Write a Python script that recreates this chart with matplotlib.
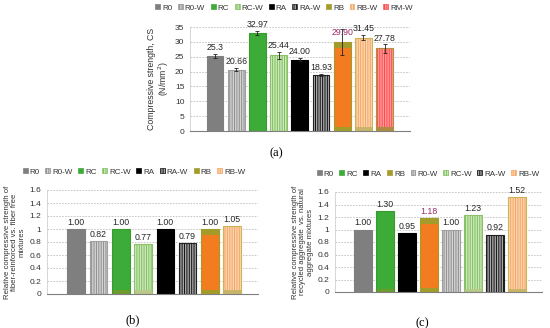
import numpy as np
import matplotlib.pyplot as plt
from matplotlib.patches import Patch

plt.rcParams['font.family'] = ['Liberation Sans', 'DejaVu Sans']
plt.rcParams['hatch.linewidth'] = 0.7

# (a) compressive strength
mixes_a = ['R0', 'R0-W', 'RC', 'RC-W', 'RA', 'RA-W', 'RB', 'RB-W', 'RM-W']
cs_a = [25.3, 20.66, 32.97, 25.44, 24.00, 18.93, 29.90, 31.45, 27.78]
cs_err = [0.6, 0.5, 0.7, 1.2, 0.5, 0.3, 4.3, 0.8, 1.4]
labels_a = ['25.3', '20.66', '32.97', '25.44', '24.00', '18.93', '29.90', '31.45', '27.78']

# (b) fiber-reinforced vs fiber free
mixes_b = ['R0', 'R0-W', 'RC', 'RC-W', 'RA', 'RA-W', 'RB', 'RB-W']
rel_b = [1.00, 0.82, 1.00, 0.77, 1.00, 0.79, 1.00, 1.05]

# (c) recycled vs natural aggregate
mixes_c = ['R0', 'RC', 'RA', 'RB', 'R0-W', 'RC-W', 'RA-W', 'RB-W']
rel_c = [1.00, 1.30, 0.95, 1.18, 1.00, 1.23, 0.92, 1.52]

# face, hatch, hatch colour, edge colour
stripes = '|' * 7
styles = {
    'R0':   ('#7f7f7f', None, '#7f7f7f', '#7f7f7f'),
    'R0-W': ('#d4d4d4', stripes, '#8c8c8c', '#a0a0a0'),
    'RC':   ('#3cab38', None, '#3cab38', '#3a9a30'),
    'RC-W': ('#cfe8bd', stripes, '#7cbf5a', '#8cc06a'),
    'RA':   ('#000000', None, '#000000', '#000000'),
    'RA-W': ('#a8a8a8', stripes, '#101010', '#202020'),
    'RB':   ('#a39c2a', None, '#a39c2a', '#a39c2a'),
    'RB-W': ('#fcd6ae', stripes, '#f4a464', '#c9b45a'),
    'RM-W': ('#ff9a9a', stripes, '#ff4a4a', '#b0903a'),
}
# darker strip at the foot of some bars
bands = {'RC': '#6f9a2c', 'RC-W': '#b8c98a', 'RB': '#a39c2a',
         'RB-W': '#c9b56a', 'RM-W': '#b08a40'}
orange = '#f47c20'
purple = '#9a2a6a'

W, H = 550, 328
fig = plt.figure(figsize=(W / 100, H / 100), dpi=100)


def px_axes(x0, y0, x1, y1):
    return fig.add_axes([x0 / W, 1 - y1 / H, (x1 - x0) / W, (y1 - y0) / H])


def draw(ax, mixes, vals, ymax, step, labels, err=None, hi=(), banded=()):
    for i, (m, v) in enumerate(zip(mixes, vals)):
        face, hatch, hc, edge = styles[m]
        ax.bar(i, v, 0.79, color=face, hatch=hatch, edgecolor=hc, linewidth=0, zorder=2)
        if m == 'RB':
            ax.bar(i, v - 0.095 * ymax, 0.79, bottom=0.04 * ymax,
                   color=orange, linewidth=0, zorder=2.5)
        elif m in banded:
            ax.bar(i, 0.035 * ymax, 0.79, color=bands[m], linewidth=0, zorder=2.5)
        ax.bar(i, v, 0.79, fill=False, edgecolor=edge, linewidth=0.8, zorder=3)
        top = v
        if err is not None:
            ax.errorbar(i, v, yerr=err[i], color='#222222', elinewidth=0.6,
                        capsize=1.5, capthick=0.6, zorder=4)
            top = v + min(err[i], 1.2)
        ax.annotate(labels[i], (i, top), xytext=(0, 1.5), textcoords='offset points',
                    ha='center', va='bottom', fontsize=6.3,
                    color=purple if i in hi else '#262626')
    ax.set_ylim(0, ymax)
    ax.set_yticks(np.arange(0, ymax + step / 2, step))
    ax.yaxis.set_major_formatter(plt.FuncFormatter(lambda y, p: f'{y:g}'))
    ax.set_xticks([])
    ax.tick_params(axis='y', length=0, labelsize=6, pad=4, colors='#333333')
    ax.grid(axis='y', color='#bfbfbf', linestyle=(0, (2, 1.5)), linewidth=0.6, zorder=0)
    for s in ['top', 'right']:
        ax.spines[s].set_visible(False)
    ax.spines['left'].set_color('#d0d0d0')
    ax.spines['left'].set_linewidth(0.6)
    ax.spines['bottom'].set_color('#7f7f7f')
    ax.spines['bottom'].set_linewidth(0.8)
    ax.set_axisbelow(True)


def legend(mixes, x, y):
    handles = []
    for m in mixes:
        face, hatch, hc, edge = styles[m]
        handles.append(Patch(facecolor=face, hatch=hatch, edgecolor=hc, linewidth=0.5, label=m))
    fig.legend(handles=handles, loc='center', bbox_to_anchor=(x / W, 1 - y / H),
               ncol=len(mixes), frameon=False, fontsize=5.8, handlelength=0.6,
               handleheight=0.6, handletextpad=0.25, columnspacing=0.7,
               labelcolor='#333333', borderpad=0)


serif = ['Liberation Serif', 'DejaVu Serif']

# (a)
ax_a = px_axes(190, 27, 410, 131)
draw(ax_a, mixes_a, cs_a, 35, 5, labels_a, err=cs_err, hi=(6,),
     banded=('RB-W', 'RM-W'))
ax_a.set_xlim(-1.18, 9.2)
ax_a.set_ylabel('Compressive strength, CS\n(N/mm$^2$)', fontsize=6.3, color='#333333',
                labelpad=3, linespacing=1.0)
legend(mixes_a, 284, 8)
fig.text(276 / W, 1 - 153 / H, '(a)', ha='center', va='center', fontsize=9, family=serif)

# (b)
ax_b = px_axes(47, 190, 258, 294)
draw(ax_b, mixes_b, rel_b, 1.6, 0.2, [f'{v:.2f}' for v in rel_b],
     banded=('RC', 'RC-W', 'RB-W'))
ax_b.set_xlim(-1.31, 8.16)
ax_b.set_ylabel('Relative compressive strength of\nfiber-reinforced vs. fiber free\nmixtures',
                fontsize=5.6, color='#333333', labelpad=3, linespacing=1.1)
legend(mixes_b, 134, 172)
fig.text(133 / W, 1 - 320 / H, '(b)', ha='center', va='center', fontsize=9, family=serif)

# (c)
ax_c = px_axes(335, 192, 542, 292)
draw(ax_c, mixes_c, rel_c, 1.6, 0.2, [f'{v:.2f}' for v in rel_c], hi=(3,),
     banded=('RC', 'RC-W', 'RB-W'))
ax_c.set_xlim(-1.27, 8.14)
ax_c.set_ylabel('Relative compressive strength of\nrecycled aggregate  vs. natural\naggregate mixtures',
                fontsize=5.6, color='#333333', labelpad=3, linespacing=1.1)
legend(mixes_c, 428, 174)
fig.text(422 / W, 1 - 323 / H, '(c)', ha='center', va='center', fontsize=9, family=serif)

fig.savefig('out.png', dpi=100)
